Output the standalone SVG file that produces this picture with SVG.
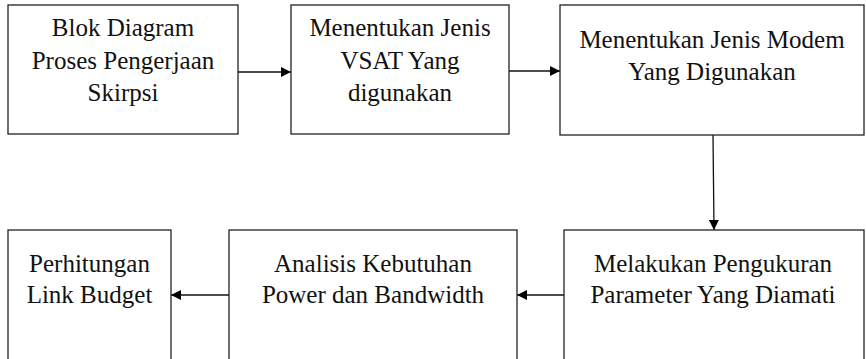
<svg xmlns="http://www.w3.org/2000/svg" width="866" height="359" viewBox="0 0 866 359">
<defs>
<style>
.box{fill:#fff;stroke:#222;stroke-width:1.3}
.t{font-family:"Liberation Serif","Times New Roman",serif;font-size:25px;fill:#111;text-anchor:middle}
.c{stroke:#111;stroke-width:1.3;fill:none;marker-end:url(#ah)}
</style>
<marker id="ah" viewBox="0 0 10 10" refX="10" refY="5" markerWidth="10" markerHeight="10" markerUnits="userSpaceOnUse" orient="auto">
<path d="M0,0 L10,5 L0,10 Z" fill="#000"/>
</marker>
</defs>
<rect width="866" height="359" fill="#fff"/>
<g id="connectors">
<line class="c" x1="238" y1="72" x2="291" y2="72"/>
<line class="c" x1="509" y1="71" x2="560" y2="71"/>
<line class="c" x1="713" y1="135" x2="714" y2="230"/>
<line class="c" x1="564" y1="295" x2="517" y2="295"/>
<line class="c" x1="229" y1="295" x2="171" y2="295"/>
</g>
<g id="n1">
<rect class="box" x="8" y="5" width="230" height="129"/>
<text class="t" x="123" y="36">Blok Diagram</text>
<text class="t" x="123" y="69">Proses Pengerjaan</text>
<text class="t" x="123" y="101">Skirpsi</text>
</g>
<g id="n2">
<rect class="box" x="291" y="5" width="218" height="129"/>
<text class="t" x="400" y="36">Menentukan Jenis</text>
<text class="t" x="400" y="69">VSAT Yang</text>
<text class="t" x="400" y="101">digunakan</text>
</g>
<g id="n3">
<rect class="box" x="560" y="5" width="304" height="130"/>
<text class="t" x="712" y="48">Menentukan Jenis Modem</text>
<text class="t" x="712" y="80">Yang Digunakan</text>
</g>
<g id="n6">
<rect class="box" x="564" y="230" width="300" height="135"/>
<text class="t" x="713" y="272">Melakukan Pengukuran</text>
<text class="t" x="713" y="303">Parameter Yang Diamati</text>
</g>
<g id="n5">
<rect class="box" x="229" y="230" width="288" height="135"/>
<text class="t" x="373" y="272">Analisis Kebutuhan</text>
<text class="t" x="373" y="303">Power dan Bandwidth</text>
</g>
<g id="n4">
<rect class="box" x="8" y="230" width="163" height="135"/>
<text class="t" x="89.5" y="272">Perhitungan</text>
<text class="t" x="89.5" y="303">Link Budget</text>
</g>
</svg>
